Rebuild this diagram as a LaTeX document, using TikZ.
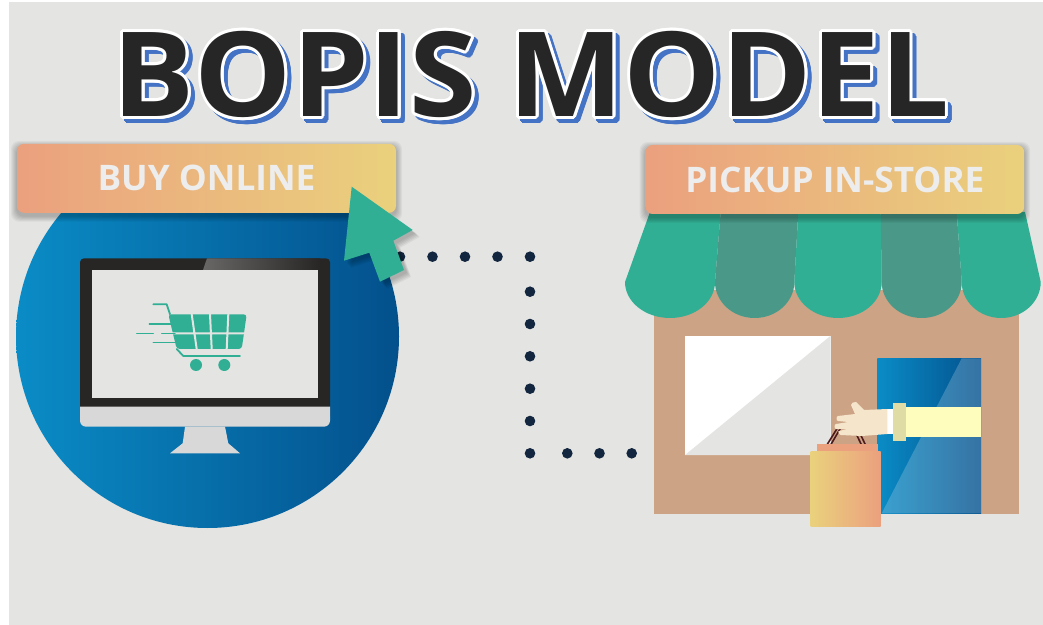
\documentclass[tikz,border=0pt]{standalone}
\usepackage{fontspec}
\setmainfont{Open Sans}
\definecolor{bg}{HTML}{E4E4E2}
\definecolor{salmon}{HTML}{EBA07E}
\definecolor{sand}{HTML}{EAD17D}
\definecolor{mint}{HTML}{31AF94}
\definecolor{awningdark}{HTML}{4A9988}
\definecolor{skyblue}{HTML}{0A8CC6}
\definecolor{deepblue}{HTML}{03508C}
\definecolor{dotblue}{HTML}{13263F}
\definecolor{bezel}{HTML}{282624}
\definecolor{chin}{HTML}{D8D8D8}
\definecolor{wall}{HTML}{CCA385}
\definecolor{skin}{HTML}{F5E5CA}
\definecolor{sleeve}{HTML}{FFFDBE}
\definecolor{cuff}{HTML}{E0DCA6}
\definecolor{strap}{HTML}{4E1A1C}
\definecolor{titleshadow}{HTML}{4472C4}
\definecolor{ink}{HTML}{262626}
\definecolor{labeltext}{HTML}{EDEDED}
\begin{document}
\begin{tikzpicture}[x=0.5pt, y=-0.5pt, line join=round, line cap=round,
	banner/.style={rounded corners=3.5pt, inner sep=0pt, minimum height=34.5pt, left color=salmon, right color=sand,
		text=labeltext, font=\fontsize{17.6}{20}\selectfont\bfseries},
	haze/.style={black, opacity=0.045, rounded corners=4pt},
	headline/.style={inner sep=0pt, anchor=base, font=\fontsize{58.8}{64}\selectfont\bfseries},
	bead/.style={fill=dotblue}]
	\useasboundingbox (0,0) rectangle (1043,625);
	\fill[white] (0,0) rectangle (1043,625);
	\fill[bg] (9,2) rectangle (1043,625);
	% title with white rim and blue drop
	\path (531,116.7) coordinate (T) (535,120.7) coordinate (T2);
	\foreach \a [count=\i] in {0,22.5,...,337.5}{
		\node[headline, text=titleshadow] (drop-\i) at ([shift={(\a:3)}]T2) {\scalebox{1.04}[1]{BOPIS MODEL}};}
	\foreach \a [count=\i] in {0,22.5,...,337.5}{
		\node[headline, text=white] (rim-\i) at ([shift={(\a:3)}]T) {\scalebox{1.04}[1]{BOPIS MODEL}};}
	\node[headline, text=ink] (title) at (T) {\scalebox{1.04}[1]{BOPIS MODEL}};
	% online side
	\shade[left color=skyblue, right color=deepblue] (207.5,336.5) circle (191.5);
	\fill[bezel, rounded corners=2pt] (80,258.3) rectangle (330,420);
	\shade[left color=bezel!70!white, right color=bezel] (207,258.3) -- (320,258.3) -- (320,270) -- (203,270) -- cycle;
	\fill[bg] (92.3,270) rectangle (317.7,397.7);
	\fill[chin] (80,406.7) [rounded corners=3pt] -- (80,426.7) -- (330,426.7) [sharp corners] -- (330,406.7) -- cycle;
	\fill[chin] (185,426.7) -- (225,426.7) -- (228.3,443.3) -- (240,453.3) -- (170,453.3) -- (182.7,443.3) -- cycle;
	% cart
	\fill[mint, rounded corners=1.5pt] (168.3,314.3) -- (246.7,314.3) -- (241.7,349) -- (176.7,349) -- cycle;
	\draw[bg, line width=1pt] (191.7,314.3) -- (196.7,349) (210,314.3) -- (211.7,349) (228.3,314.3) -- (226.7,349) (170,333.3) -- (246,333.3);
	\draw[mint, line width=0.9pt] (153.3,304.3) -- (166.7,304.3) -- (170,314.3) (176.7,349) -- (183.3,356) -- (240,356);
	\draw[mint, line width=0.7pt] (149.3,324) -- (171.7,324) (136.7,333.3) -- (153.3,333.3) (161.7,333.3) -- (175,333.3) (153.3,342.7) -- (178.3,342.7);
	\fill[mint] (196,365) circle (6) (224.3,365) circle (6);
	\foreach \e in {1,...,6}
		\fill[haze] (17-\e,144-\e+3) rectangle (396+\e,212.7+\e+3);
	\node[banner, minimum width=189.5pt] (buy) at (206.5,178.3) {BUY ONLINE};
	% dotted route
	\foreach \x/\y in {400/256.7,432.5/256.7,465/256.7,497.5/256.7,530/256.7,530/291.7,530/324,530/356.3,530/388.7,530/421,530/453.3,567.3/453.3,599.5/453.3,631.7/453.3}
		\fill[bead] (\x,\y) circle (5.3);
	\foreach \e in {1,...,5}
		\fill[black, opacity=0.05] ([shift={(2+\e,2+\e)}]351.7,186.7) -- ([shift={(2+\e,2+\e)}]412.7,230) -- ([shift={(2+\e,2+\e)}]393.3,240.7) -- ([shift={(2+\e,2+\e)}]404,270) -- ([shift={(2+\e,2+\e)}]380,281.7) -- ([shift={(2+\e,2+\e)}]369.3,252.7) -- ([shift={(2+\e,2+\e)}]344,260.7) -- cycle;
	\fill[mint] (351.7,186.7) -- (412.7,230) -- (393.3,240.7) -- (404,270) -- (380,281.7) -- (369.3,252.7) -- (344,260.7) -- cycle;
	% store
	\fill[wall] (654,290) rectangle (1019.3,514.3);
	\foreach \a/\b/\c/\d/\col in {650/720.7/625/715/mint, 720.7/798.3/715/794.3/awningdark, 798.3/880.7/794.3/881.7/mint, 880.7/956.7/881.7/961.7/awningdark, 956.7/1025/961.7/1040.7/mint}
		\fill[\col] (\a,212) -- (\b,212) -- (\d,282) arc[start angle=0, end angle=180, x radius={(\d-\c)/2}, y radius=36] -- cycle;
	\fill[white] (685,335.7) rectangle (830.7,455);
	\fill[bg] (685,455) -- (830.7,335.7) -- (830.7,455) -- cycle;
	\shade[left color=skyblue, right color=deepblue] (877.3,358.3) rectangle (981,513.3);
	\fill[white, opacity=0.2] (961.7,358.3) -- (981,358.3) -- (981,513.3) -- (881.7,513.3) -- cycle;
	\draw[strap, line width=0.8pt] (823.3,450.7) -- (839.3,425) (827.3,450.7) -- (842.3,425) (856.7,435) -- (864.3,450.7) (860.7,435) -- (868.3,450.7);
	\fill[salmon] (817.3,444.3) rectangle (878.3,451);
	\shade[left color=sand, right color=salmon] (810.7,451) rectangle (880.7,526);
	\fill[sleeve] (905,407.3) rectangle (981,436.7);
	\fill[cuff] (893.3,403.3) rectangle (906,440.7);
	\fill[white] (887.3,409.3) rectangle (893.3,434);
	\fill[skin] (887.3,409) -- (864,410) -- (856,402) to[out=180,in=90] (851,405) -- (855,414) -- (838,416) to[out=180,in=180] (838,421) -- (848,422) -- (836,424) to[out=180,in=180] (836,429) -- (848,429) -- (839,431) to[out=180,in=180] (841,435) -- (862,436) -- (887.3,434) -- cycle;
	\foreach \e in {1,...,6}
		\fill[haze] (645.7-\e,145-\e+3) rectangle (1024+\e,214+\e+3);
	\node[banner, minimum width=189.2pt] (pickup) at (834.9,179.5) {PICKUP IN-STORE};
\end{tikzpicture}
\end{document}
